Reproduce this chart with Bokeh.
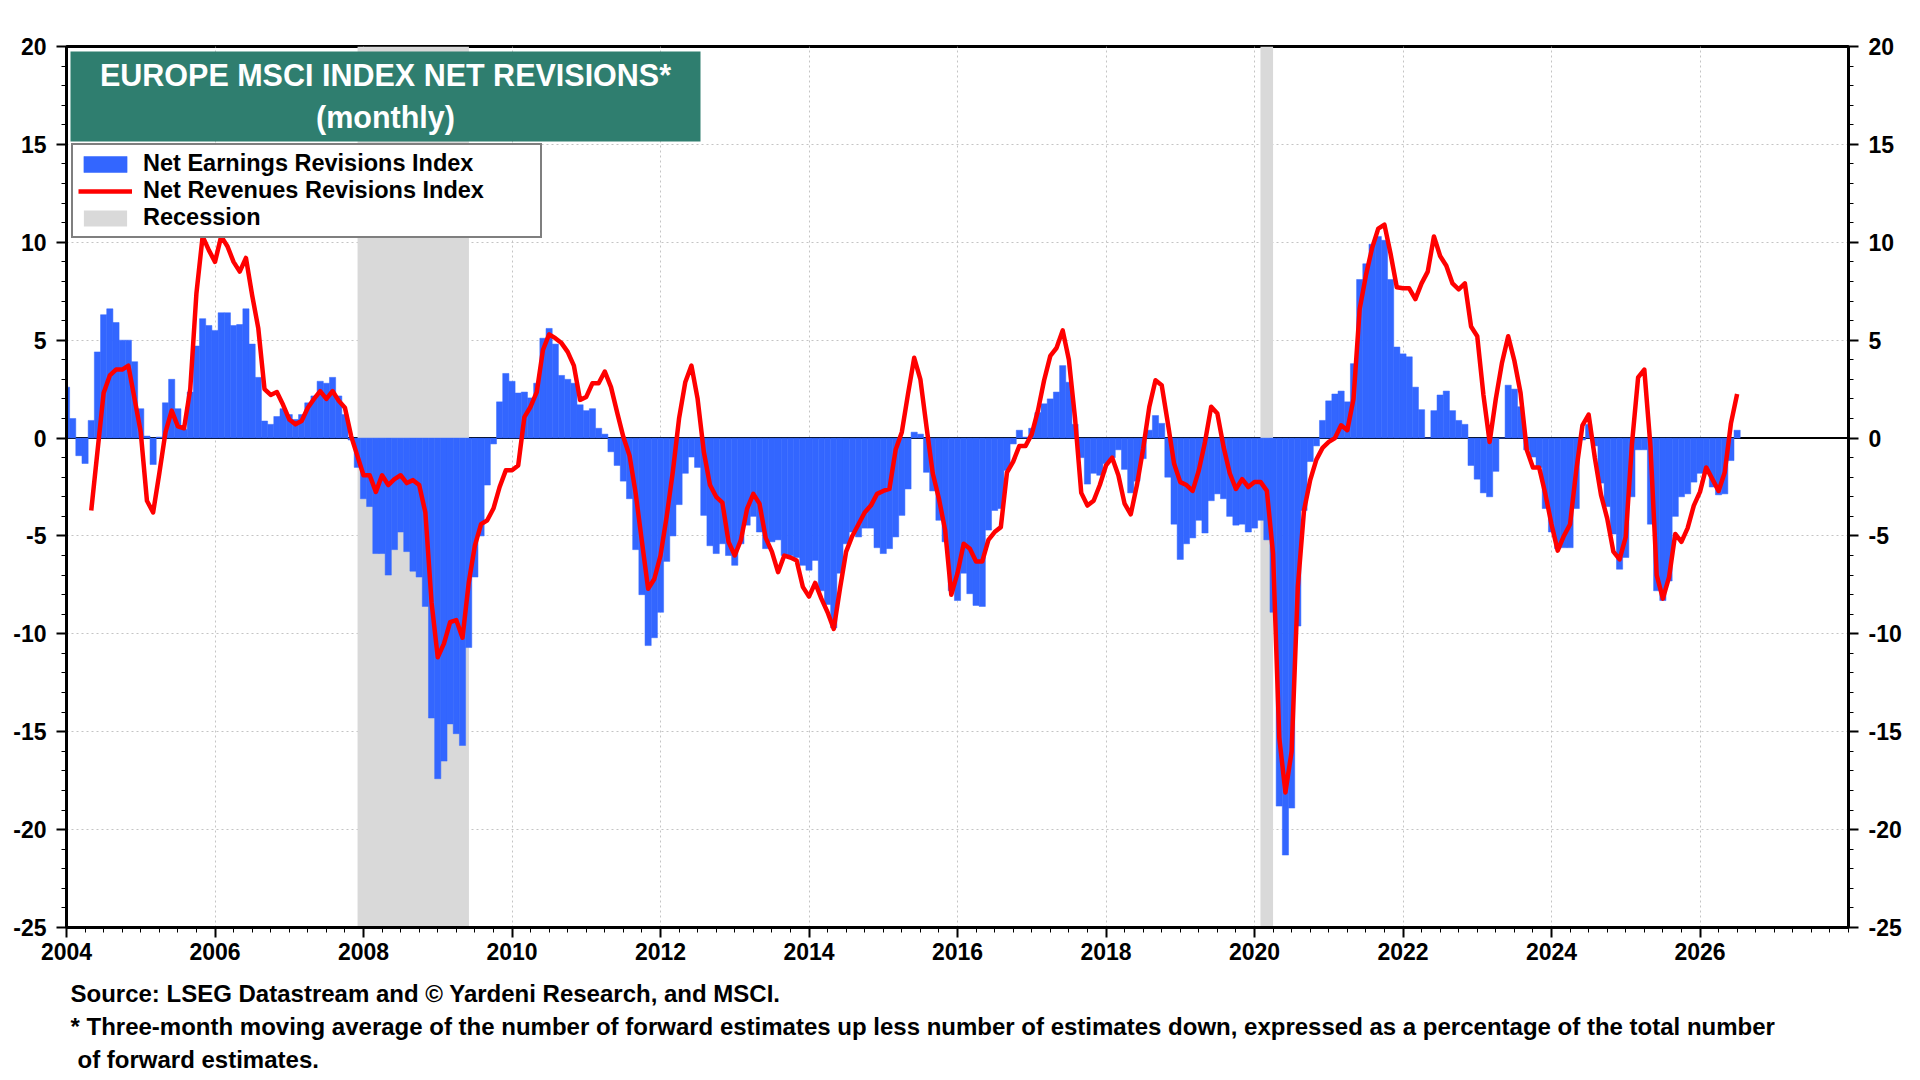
import numpy as np
from bokeh.plotting import figure
from bokeh.layouts import column
from bokeh.models import (FixedTicker, LinearAxis, Span, Label, BoxAnnotation,
                          Legend, LegendItem, Range1d)
from bokeh.embed import file_html
from bokeh.resources import INLINE

FONT = "Liberation Sans"
BLUE = "#3366ff"
RED = "#ff0000"
GREEN = "#2f7e6f"

# ---------------- data (monthly, from Jan 2004) ----------------
earn_2004 = [2.6, 1.0, -0.9, -1.3, 0.9, 4.4, 6.3, 6.6, 5.9, 5.0, 5.0, 3.9]
earn_2005 = [1.5, 0.1, -1.35, 0.05, 1.8, 3.0, 1.5, 0.45, 2.35, 4.7, 6.1, 5.75]
earn_2006 = [5.5, 6.4, 6.4, 5.75, 5.8, 6.6, 4.8, 3.1, 0.87, 0.7, 1.1, 1.5]
earn_2007 = [1.2, 0.95, 1.2, 1.8, 2.15, 2.9, 2.8, 3.1, 2.15, 1.2, -0.1, -1.5]
earn_2008 = [-3.1, -3.5, -5.9, -5.9, -7.0, -5.7, -4.8, -5.8, -6.8, -7.1, -8.6, -14.3]
earn_2009 = [-17.4, -16.5, -14.6, -15.1, -15.7, -10.7, -7.1, -5.0, -2.4, -0.3, 1.85, 3.3]
earn_2010 = [2.9, 2.3, 2.35, 2.05, 2.8, 5.1, 5.6, 4.8, 3.2, 3.0, 2.8, 1.7]
earn_2011 = [1.4, 1.5, 0.5, 0.2, -0.7, -1.4, -2.2, -3.1, -5.7, -8.0, -10.6, -10.2]
earn_2012 = [-8.9, -6.3, -5.0, -3.4, -1.8, -0.97, -1.5, -3.95, -5.5, -5.9, -5.4, -6.0]
earn_2013 = [-6.5, -5.4, -4.45, -4.0, -4.8, -5.65, -5.3, -5.2, -6.0, -6.0, -6.1, -6.5]
earn_2014 = [-6.75, -6.25, -7.8, -8.5, -9.7, -6.9, -5.4, -4.8, -5.05, -4.6, -4.6, -5.6]
earn_2015 = [-5.9, -5.65, -5.05, -3.95, -2.6, 0.3, 0.2, -1.75, -2.7, -4.2, -5.3, -7.8]
earn_2016 = [-8.3, -6.9, -7.95, -8.55, -8.6, -4.7, -3.7, -3.6, -1.65, -0.3, 0.4, 0.05]
earn_2017 = [0.5, 1.3, 1.75, 2.0, 2.35, 3.7, 2.85, 0.7, -1.0, -2.35, -1.8, -1.9]
earn_2018 = [-1.3, -1.0, -0.6, -1.6, -2.8, -2.2, -1.05, 0.4, 1.15, 0.75, -2.0, -4.4]
earn_2019 = [-6.2, -5.4, -5.1, -4.2, -4.85, -3.2, -2.85, -3.1, -4.0, -4.45, -4.4, -4.8]
earn_2020 = [-4.6, -4.2, -5.2, -8.9, -18.8, -21.3, -18.9, -9.6, -3.7, -1.2, -0.4, 0.9]
earn_2021 = [1.9, 2.25, 2.4, 1.85, 3.8, 8.1, 8.9, 9.9, 10.3, 10.1, 8.1, 4.65]
earn_2022 = [4.3, 4.15, 2.6, 1.45, 0.0, 1.4, 2.2, 2.4, 1.4, 0.9, 0.7, -1.4]
earn_2023 = [-2.1, -2.8, -3.0, -1.7, 0.0, 2.7, 2.5, 1.6, -0.6, -0.97, -1.5, -3.6]
earn_2024 = [-4.8, -5.65, -5.6, -5.6, -3.6, -0.1, 0.7, -0.4, -2.3, -3.5, -4.9, -6.7]
earn_2025 = [-6.1, -3.0, -0.6, -0.6, -4.4, -7.8, -8.3, -7.3, -4.0, -3.0, -2.85, -2.25]
earn_2026 = [-1.8, -1.65, -2.5, -2.9, -2.85, -1.15, 0.4]

# revenues series starts May 2004
rev_2004 = [-3.7, -0.7, 2.3, 3.2, 3.5, 3.5, 3.7, 2.0]
rev_2005 = [0.3, -3.2, -3.8, -1.8, 0.3, 1.4, 0.6, 0.5, 2.5, 7.4, 10.3, 9.6]
rev_2006 = [9.0, 10.3, 9.8, 9.0, 8.5, 9.2, 7.3, 5.6, 2.5, 2.2, 2.35, 1.7]
rev_2007 = [0.95, 0.7, 0.87, 1.55, 2.0, 2.4, 2.0, 2.4, 1.9, 1.55, 0.1, -0.9]
rev_2008 = [-1.9, -1.9, -2.75, -1.9, -2.4, -2.1, -1.9, -2.3, -2.15, -2.4, -3.8, -8.4]
rev_2009 = [-11.2, -10.5, -9.4, -9.3, -10.2, -7.4, -5.5, -4.4, -4.2, -3.6, -2.5, -1.65]
rev_2010 = [-1.65, -1.4, 1.07, 1.6, 2.35, 4.5, 5.3, 5.1, 4.85, 4.4, 3.7, 1.95]
rev_2011 = [2.1, 2.8, 2.8, 3.4, 2.6, 1.3, 0.05, -0.9, -2.85, -5.3, -7.7, -7.2]
rev_2012 = [-6.0, -4.0, -1.7, 1.0, 2.85, 3.7, 2.0, -0.7, -2.4, -3.0, -3.3, -5.3]
rev_2013 = [-6.0, -5.2, -3.6, -2.85, -3.35, -5.1, -5.8, -6.85, -6.0, -6.1, -6.25, -7.6]
rev_2014 = [-8.1, -7.4, -8.2, -8.9, -9.75, -7.7, -5.8, -5.0, -4.4, -3.8, -3.45, -2.85]
rev_2015 = [-2.7, -2.6, -0.6, 0.3, 2.25, 4.1, 3.0, 0.55, -1.8, -3.1, -4.7, -8.0]
rev_2016 = [-6.9, -5.4, -5.65, -6.3, -6.3, -5.2, -4.8, -4.55, -1.75, -1.2, -0.4, -0.4]
rev_2017 = [0.2, 1.4, 2.95, 4.2, 4.6, 5.5, 4.0, 1.0, -2.8, -3.45, -3.2, -2.4]
rev_2018 = [-1.4, -1.0, -1.9, -3.35, -3.9, -2.4, -0.55, 1.6, 2.95, 2.7, 0.75, -1.3]
rev_2019 = [-2.25, -2.4, -2.7, -1.65, -0.2, 1.6, 1.25, -0.45, -1.8, -2.6, -2.1, -2.5]
rev_2020 = [-2.25, -2.25, -2.7, -5.9, -15.3, -18.1, -16.0, -7.6, -3.7, -2.15, -1.1, -0.5]
rev_2021 = [-0.2, 0.0, 0.65, 0.4, 2.0, 6.6, 8.3, 9.7, 10.7, 10.9, 9.4, 7.7]
rev_2022 = [7.65, 7.65, 7.1, 7.9, 8.5, 10.3, 9.3, 8.8, 7.9, 7.6, 7.9, 5.7]
rev_2023 = [5.2, 2.2, -0.2, 2.0, 3.85, 5.2, 3.95, 2.3, -0.6, -1.5, -1.5, -2.85]
rev_2024 = [-4.4, -5.75, -5.0, -4.4, -1.65, 0.65, 1.2, -1.0, -2.9, -4.1, -5.8, -6.2]
rev_2025 = [-5.05, -0.3, 3.1, 3.5, -0.45, -7.0, -8.2, -7.1, -4.9, -5.3, -4.6, -3.45]
rev_2026 = [-2.75, -1.5, -2.1, -2.7, -1.75, 0.75, 2.25]

rec_start = [2007.92, 2020.08]
rec_end = [2009.42, 2020.25]

y_ticks = [-25, -20, -15, -10, -5, 0, 5, 10, 15, 20]
x_ticks = [2004, 2006, 2008, 2010, 2012, 2014, 2016, 2018, 2020, 2022, 2024, 2026]

earn = (earn_2004 + earn_2005 + earn_2006 + earn_2007 + earn_2008 + earn_2009 +
        earn_2010 + earn_2011 + earn_2012 + earn_2013 + earn_2014 + earn_2015 +
        earn_2016 + earn_2017 + earn_2018 + earn_2019 + earn_2020 + earn_2021 +
        earn_2022 + earn_2023 + earn_2024 + earn_2025 + earn_2026)
rev = (rev_2004 + rev_2005 + rev_2006 + rev_2007 + rev_2008 + rev_2009 +
       rev_2010 + rev_2011 + rev_2012 + rev_2013 + rev_2014 + rev_2015 +
       rev_2016 + rev_2017 + rev_2018 + rev_2019 + rev_2020 + rev_2021 +
       rev_2022 + rev_2023 + rev_2024 + rev_2025 + rev_2026)

earn_x = 2004 + np.arange(len(earn)) / 12.0
rev_x = 2004 + (4 + np.arange(len(rev))) / 12.0

# ---------------- main figure ----------------
W = 1904
FRAME_LEFT = 66
FRAME_BOTTOM = 927
H = 972
p = figure(width=W, height=H,
           x_range=Range1d(2004, 2028), y_range=Range1d(-25, 20),
           output_backend="svg", toolbar_location=None,
           min_border_left=FRAME_LEFT, min_border_right=W - 1853,
           min_border_top=46, min_border_bottom=H - FRAME_BOTTOM)
p.background_fill_color = "white"
p.border_fill_color = "white"
p.outline_line_color = "black"
p.outline_line_width = 3

rec = p.quad(left=rec_start, right=rec_end, top=[20] * len(rec_start),
             bottom=[-25] * len(rec_start), fill_color="#d9d9d9",
             line_color=None)

zero = Span(location=0, dimension="width", line_color="black",
            line_width=2, level="underlay")
p.add_layout(zero)

bars = p.vbar(x=earn_x, top=earn, bottom=0, width=1 / 12.0,
              fill_color=BLUE, line_color=BLUE, line_width=0.5)

line = p.line(rev_x, rev, line_color=RED, line_width=4.5, line_join="round")

# axes
minor_x = [2004 + q / 4.0 for q in range(0, 97)]
minor_y = list(range(-25, 21))
y_labels = {t: str(t) for t in y_ticks}
p.xaxis.ticker = FixedTicker(ticks=x_ticks, minor_ticks=minor_x)
p.yaxis.ticker = FixedTicker(ticks=y_ticks, minor_ticks=minor_y)
p.yaxis.major_label_overrides = y_labels
right_axis = LinearAxis(ticker=FixedTicker(ticks=y_ticks, minor_ticks=minor_y),
                        major_label_overrides=y_labels)
p.add_layout(right_axis, "right")

for ax in [p.xaxis[0], p.yaxis[0], right_axis]:
    ax.axis_line_color = "black"
    ax.axis_line_width = 3
    ax.major_tick_line_color = "black"
    ax.major_tick_line_width = 2
    ax.major_tick_out = 10
    ax.major_tick_in = 0
    ax.minor_tick_line_color = "black"
    ax.minor_tick_line_width = 1
    ax.minor_tick_out = 5
    ax.minor_tick_in = 0
    ax.major_label_text_font = FONT
    ax.major_label_text_font_size = "23px"
    ax.major_label_text_font_style = "bold"
    ax.major_label_text_color = "black"
    ax.major_label_standoff = 10
p.xaxis.major_label_standoff = 5

p.grid.grid_line_color = "#c4c4c4"
p.grid.grid_line_dash = "2 3"
p.grid.grid_line_width = 1

# frame height in px, for screen-unit annotations (measured from frame bottom)
FH = FRAME_BOTTOM - 46

# title box
p.add_layout(BoxAnnotation(left=4, right=634, top=FH - 5, bottom=FH - 95,
                           left_units="screen", right_units="screen",
                           top_units="screen", bottom_units="screen",
                           fill_color=GREEN, fill_alpha=1.0, line_color=None))
for txt, yy in [("EUROPE MSCI INDEX NET REVISIONS*", FH - 28), ("(monthly)", FH - 70)]:
    p.add_layout(Label(x=319, y=yy, x_units="screen", y_units="screen",
                       text=txt, text_align="center", text_baseline="middle",
                       text_color="white", text_font=FONT,
                       text_font_style="bold", text_font_size="30.5px"))

# legend
legend = Legend(items=[LegendItem(label="Net Earnings Revisions Index", renderers=[bars]),
                       LegendItem(label="Net Revenues Revisions Index", renderers=[line]),
                       LegendItem(label="Recession", renderers=[rec])],
                location=(5, FH - 192), orientation="vertical",
                padding=5, spacing=0, margin=0,
                glyph_width=54, glyph_height=20, label_standoff=11,
                label_width=392, label_height=24,
                label_text_font=FONT, label_text_font_size="23.5px",
                label_text_font_style="bold", label_text_color="black",
                border_line_color="black", border_line_width=2,
                background_fill_color="white", background_fill_alpha=1.0)
p.add_layout(legend)

# ---------------- footnotes ----------------
NH = 104
notes_fig = figure(width=W, height=NH, x_range=Range1d(0, W), y_range=Range1d(0, NH),
                   output_backend="svg", toolbar_location=None,
                   x_axis_type=None, y_axis_type=None, min_border=0)
notes_fig.outline_line_color = None
notes_fig.grid.visible = False
notes_fig.background_fill_color = "white"
notes_fig.border_fill_color = "white"

# (text, page x, page y); the column aligns this frame with the chart frame
notes = [("Source: LSEG Datastream and \u00a9 Yardeni Research, and MSCI.", 70, 993),
         ("* Three-month moving average of the number of forward estimates up less number of estimates down, expressed as a percentage of the total number", 70, 1026),
         ("of forward estimates.", 77, 1059)]
for txt, xx, yy in notes:
    notes_fig.add_layout(Label(x=xx - FRAME_LEFT, y=NH - (yy - H),
                               x_units="screen", y_units="screen",
                               text=txt, text_align="left", text_baseline="middle",
                               text_color="black", text_font=FONT,
                               text_font_style="bold", text_font_size="24px"))

layout = column(p, notes_fig, spacing=0)
open("out.html", "w").write(file_html(layout, INLINE))
